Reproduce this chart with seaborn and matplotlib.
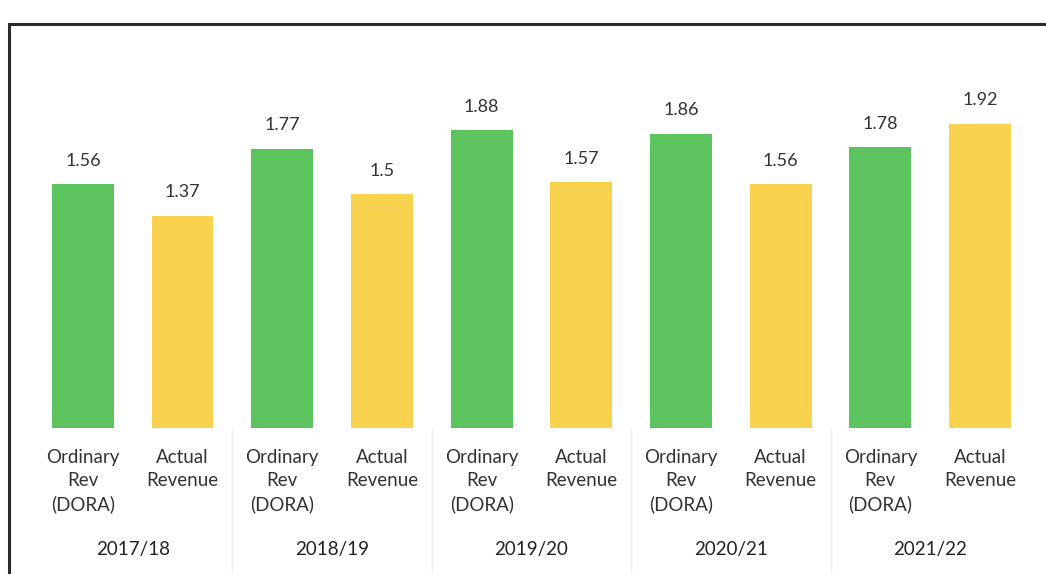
import matplotlib
matplotlib.use("Agg")
import matplotlib.pyplot as plt
import matplotlib.transforms as mtransforms
from matplotlib.patches import Rectangle
import pandas as pd
import seaborn as sns

# ── Data ───────────────────────────────────────────────────────────────────────
years = ["2017/18", "2018/19", "2019/20", "2020/21", "2021/22"]
series = ["Ordinary\nRev\n(DORA)", "Actual\nRevenue"]
ordinary_rev = [1.56, 1.77, 1.88, 1.86, 1.78]
actual_rev = [1.37, 1.5, 1.57, 1.56, 1.92]

colors = {series[0]: "#5dc35e", series[1]: "#f9d350"}

rows = []
for i, yr in enumerate(years):
    rows.append({"key": f"{yr} a", "year": yr, "series": series[0], "value": ordinary_rev[i]})
    rows.append({"key": f"{yr} b", "year": yr, "series": series[1], "value": actual_rev[i]})
df = pd.DataFrame(rows)

# ── Plot ───────────────────────────────────────────────────────────────────────
sns.set_theme(style="white")
plt.rcParams["font.family"] = ["Lato", "DejaVu Sans"]

fig = plt.figure(figsize=(10.46, 5.74), dpi=100)
ax = fig.add_axes([0.0316, 0.2544, 0.953, 0.676])

sns.barplot(data=df, x="key", y="value", hue="series", palette=colors,
            dodge=False, width=0.62, linewidth=0, saturation=1,
            legend=False, ax=ax)

for cont in ax.containers:
    vals = [b.get_height() for b in cont]
    ax.bar_label(cont, labels=[f"{v:g}" for v in vals], padding=11,
                 fontsize=13, color="#333333")

ax.set_ylim(0.1, 2.42)
ax.set_xlim(-0.5, 9.5)
ax.set_yticks([])
ax.set_ylabel("")
ax.set_xlabel("")
ax.set_xticks(range(len(df)))
ax.set_xticklabels(df["series"], fontsize=13.5, color="#333333", linespacing=1.42)
ax.tick_params(axis="x", length=0, pad=15)
sns.despine(ax=ax, left=True, bottom=True)

trans = mtransforms.blended_transform_factory(ax.transData, ax.transAxes)
for i, yr in enumerate(years):
    ax.text(2 * i + 0.5, -0.314, yr, transform=trans, ha="center", va="center",
            fontsize=13.5, color="#222222")
    if i > 0:
        ax.plot([2 * i - 0.5] * 2, [0, -0.4], transform=trans, clip_on=False,
                color="#f0f0f0", lw=1)

# outer frame of the scanned figure
fig.patches.append(Rectangle((0.009, -0.05), 1.1, 1.008, transform=fig.transFigure,
                             fill=False, edgecolor="#2a2a2a", lw=2.2))

fig.savefig("out.png", dpi=100)
